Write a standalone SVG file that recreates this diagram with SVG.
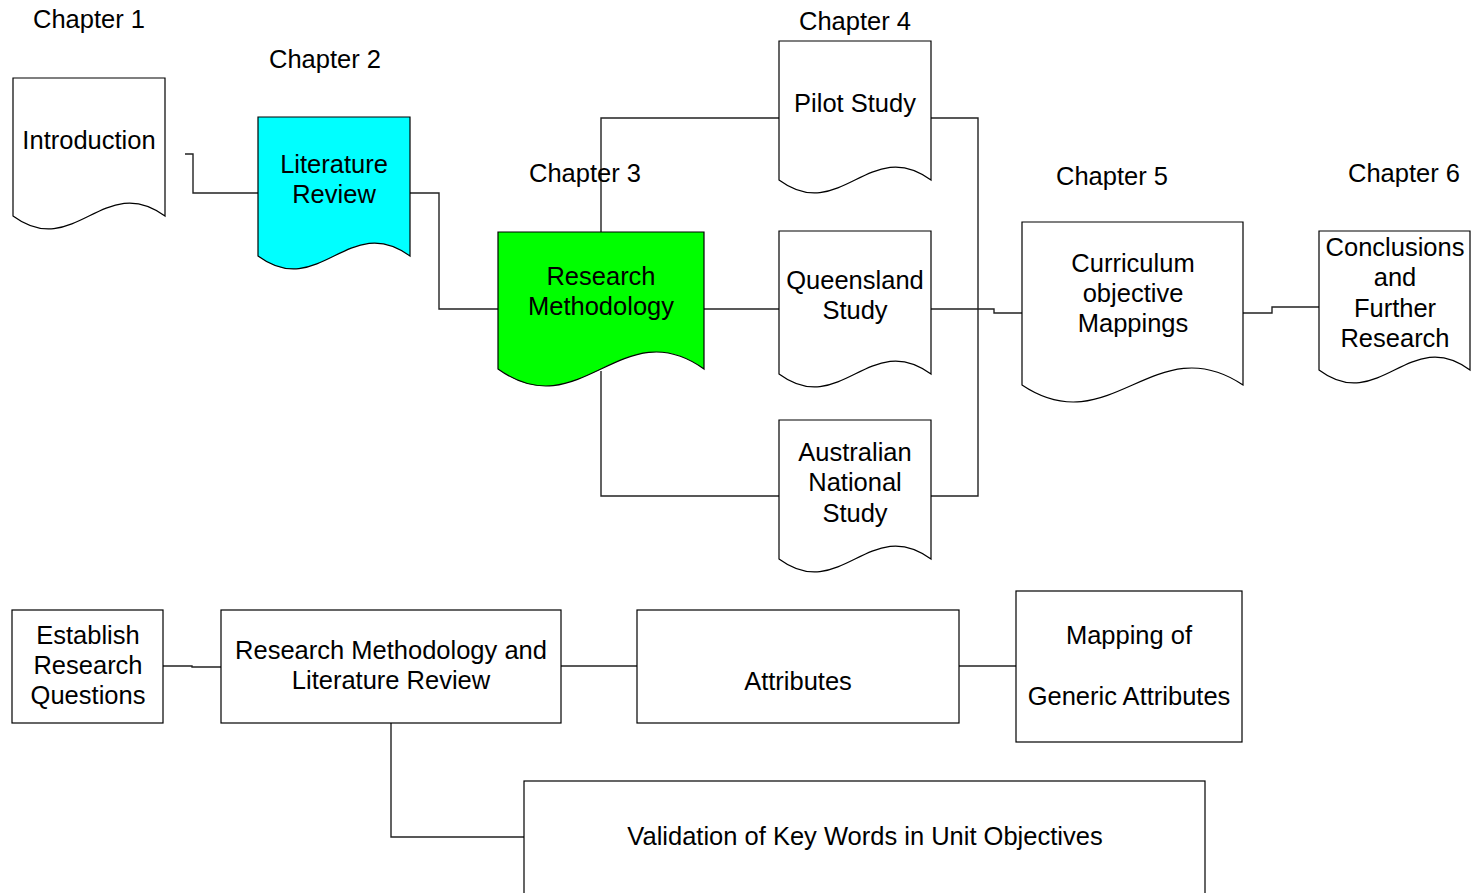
<svg xmlns="http://www.w3.org/2000/svg" width="1473" height="893" viewBox="0 0 1473 893">
  <style>
    .doc { stroke: #000; stroke-width: 1.2; }
    .box { fill: #fff; stroke: #000; stroke-width: 1.2; }
    .lbl { font-family: "Liberation Sans", Arial, sans-serif; font-size: 25.5px; fill: #000; text-anchor: middle; }
    .conn { fill: none; stroke: #222; stroke-width: 1.4; }
  </style>

  <!-- connectors -->
  <g id="connectors">
    <path class="conn" d="M185,154 H193 V193 H258"/>
    <path class="conn" d="M410,193 H439 V309 H498"/>
    <path class="conn" d="M601,232 V118 H779"/>
    <path class="conn" d="M704,309 H779"/>
    <path class="conn" d="M601,371 V496 H779"/>
    <path class="conn" d="M931,118 H978 V496 H931"/>
    <path class="conn" d="M931,309 H994 V313 H1022"/>
    <path class="conn" d="M1243,313 H1272 V307 H1319"/>
    <path class="conn" d="M163,666 H192 V667 H221"/>
    <path class="conn" d="M561,666 H637"/>
    <path class="conn" d="M959,666 H1016"/>
    <path class="conn" d="M391,723 V837 H524"/>
  </g>

  <!-- chapter headings -->
  <g id="chapters">
    <text class="lbl" x="89" y="28">Chapter 1</text>
    <text class="lbl" x="325" y="68">Chapter 2</text>
    <text class="lbl" x="585" y="182">Chapter 3</text>
    <text class="lbl" x="855" y="30">Chapter 4</text>
    <text class="lbl" x="1112" y="185">Chapter 5</text>
    <text class="lbl" x="1404" y="182">Chapter 6</text>
  </g>

  <!-- document shapes: flat top, wavy bottom -->
  <g id="introduction">
    <path class="doc" fill="#fff" d="M13,78 H165 V216 C104,171 74,261 13,216 Z"/>
    <text class="lbl" x="89" y="149">Introduction</text>
  </g>

  <g id="literature-review">
    <path class="doc" fill="#00ffff" d="M258,117 H410 V256 C349,211 319,301 258,256 Z"/>
    <text class="lbl" x="334" y="173">Literature</text>
    <text class="lbl" x="334" y="203">Review</text>
  </g>

  <g id="research-methodology">
    <path class="doc" fill="#00ff00" d="M498,232 H704 V369 C622,310 580,428 498,369 Z"/>
    <text class="lbl" x="601" y="285">Research</text>
    <text class="lbl" x="601" y="315">Methodology</text>
  </g>

  <g id="pilot-study">
    <path class="doc" fill="#fff" d="M779,41 H931 V180 C870,135 840,225 779,180 Z"/>
    <text class="lbl" x="855" y="112">Pilot Study</text>
  </g>

  <g id="queensland-study">
    <path class="doc" fill="#fff" d="M779,231 H931 V374 C870,329 840,419 779,374 Z"/>
    <text class="lbl" x="855" y="289">Queensland</text>
    <text class="lbl" x="855" y="319">Study</text>
  </g>

  <g id="australian-national-study">
    <path class="doc" fill="#fff" d="M779,420 H931 V559 C870,514 840,604 779,559 Z"/>
    <text class="lbl" x="855" y="461">Australian</text>
    <text class="lbl" x="855" y="491">National</text>
    <text class="lbl" x="855" y="522">Study</text>
  </g>

  <g id="curriculum-mappings">
    <path class="doc" fill="#fff" d="M1022,222 H1243 V385 C1155,326 1110,444 1022,385 Z"/>
    <text class="lbl" x="1133" y="272">Curriculum</text>
    <text class="lbl" x="1133" y="302">objective</text>
    <text class="lbl" x="1133" y="332">Mappings</text>
  </g>

  <g id="conclusions">
    <path class="doc" fill="#fff" d="M1319,231 H1470 V370 C1410,325 1379,415 1319,370 Z"/>
    <text class="lbl" x="1395" y="256">Conclusions</text>
    <text class="lbl" x="1395" y="286">and</text>
    <text class="lbl" x="1395" y="317">Further</text>
    <text class="lbl" x="1395" y="347">Research</text>
  </g>

  <!-- process boxes -->
  <g id="establish-questions">
    <rect class="box" x="12" y="610" width="151" height="113"/>
    <text class="lbl" x="88" y="644">Establish</text>
    <text class="lbl" x="88" y="674">Research</text>
    <text class="lbl" x="88" y="704">Questions</text>
  </g>

  <g id="methodology-review">
    <rect class="box" x="221" y="610" width="340" height="113"/>
    <text class="lbl" x="391" y="659">Research Methodology and</text>
    <text class="lbl" x="391" y="689">Literature Review</text>
  </g>

  <g id="attributes">
    <rect class="box" x="637" y="610" width="322" height="113"/>
    <text class="lbl" x="798" y="690">Attributes</text>
  </g>

  <g id="mapping-generic">
    <rect class="box" x="1016" y="591" width="226" height="151"/>
    <text class="lbl" x="1129" y="644">Mapping of</text>
    <text class="lbl" x="1129" y="705">Generic Attributes</text>
  </g>

  <g id="validation">
    <rect class="box" x="524" y="781" width="681" height="130"/>
    <text class="lbl" x="865" y="845">Validation of Key Words in Unit Objectives</text>
  </g>
</svg>
